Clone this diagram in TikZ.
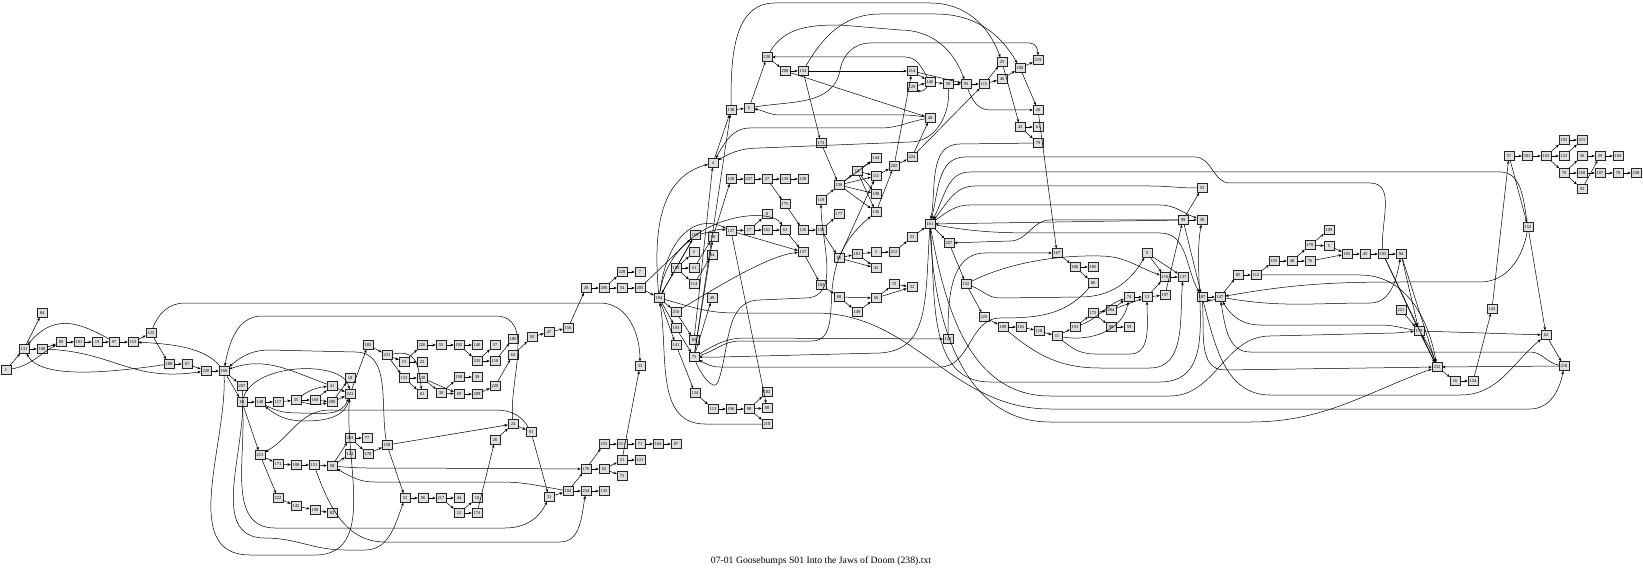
\documentclass[tikz,border=0pt]{standalone}
\usepackage{fontspec}
\setmainfont{Liberation Serif}
\usetikzlibrary{arrows.meta}

\tikzset{
  box/.style={draw=black!85, fill=gray!25, line width=0.35pt, minimum width=10pt, minimum height=9pt, inner sep=0.3pt, font=\fontsize{4.5}{5}\selectfont},
  conn/.style={->, line width=0.5pt},
}

\begin{document}
\begin{tikzpicture}[x=1pt, y=1pt, >={Stealth[length=3.4pt,width=2.7pt]}]
\useasboundingbox (0,0) rectangle (1643,-569);

% nodes, at pixel positions (x, depth)
\foreach \n/\x/\y in {1/6/370, 131/24/349, 84/42/313, 180/42/349, 89/61/342, 101/79/342, 19/97/342, 97/114/342, 153/133/342, 125/151/333, 188/169/364, 67/187/364, 220/206/371, 166/224/371, 207/242/386, 60/242/402, 148/260/402, 117/278/402, 35/296/400, 160/315/400, 41/332/386, 200/332/402, 18/350/378, 223/350/394,
  213/260/455, 171/278/464, 108/296/465, 151/314/465, 58/332/466, 203/350/438, 142/350/454, 77/367/438, 178/368/454, 159/387/445, 222/278/498, 145/296/506, 199/315/510, 82/332/513,
  52/405/498, 96/423/498, 217/441/498, 44/459/498, 12/459/513, 10/477/498, 174/477/513, 26/495/440, 24/513/424, 91/531/432, 31/549/497, 104/568/491, 234/586/491, 135/604/491, 176/586/469, 233/604/444, 65/604/469, 211/622/444, 21/622/460, 73/622/476, 71/640/444, 121/640/460, 164/658/444, 87/676/444, 33/640/366,
  183/368/345, 231/387/355, 15/404/362, 22/422/362, 226/422/345, 55/441/345, 192/459/345, 140/477/345, 37/495/345, 235/477/361, 110/495/361, 186/513/339, 64/513/355, 133/404/378, 130/422/378, 81/422/394, 30/441/393, 158/459/377, 39/477/377, 69/459/394, 209/477/394, 229/495/386,
  93/532/337, 47/549/332, 156/568/328, 28/586/288, 206/604/288, 228/622/272, 7/640/272, 54/622/288, 205/640/288, 194/659/298, 190/676/268, 2/694/252, 51/694/268, 114/694/284, 169/695/235, 80/713/237, 34/712/255, 49/712/298, 216/676/312, 193/676/328, 141/676/345, 83/694/340, 75/694/357, 134/695/393, 113/713/409, 196/731/409, 98/749/409, 182/767/392, 88/767/408, 210/767/424,
  4/713/163, 138/731/110, 6/749/108, 230/767/57, 208/785/71, 154/803/71, 173/821/143, 120/731/179, 237/749/179, 27/767/179, 139/785/179, 128/803/179, 175/785/204, 8/767/214, 127/731/231, 17/749/230, 162/767/230, 63/785/230, 126/803/230, 150/821/230, 119/821/200, 177/839/214, 236/839/185, 14/857/171, 144/876/158, 111/876/176, 198/876/194, 136/876/212, 202/894/166, 224/912/157, 214/912/71, 129/912/87, 146/930/82, 40/930/118, 50/948/84, 95/966/84, 115/984/84, 46/1002/79, 25/1002/62, 100/1020/68, 219/1038/60, 20/1038/110, 43/1020/127, 61/1038/127, 79/1038/143,
  157/803/252, 102/821/285, 66/839/258, 181/857/254, 3/876/252, 42/876/268, 212/894/252, 23/912/237, 161/930/224, 68/839/297, 149/857/312, 56/876/298, 72/894/284, 32/912/287,
  227/949/243, 132/966/284, 225/984/317, 189/1003/327, 165/1021/327, 118/1039/331, 11/1057/336, 191/1075/327, 172/1093/313, 204/1111/310, 90/1111/327, 74/1129/297, 59/1129/327, 13/1147/297, 197/1165/295, 9/1147/253, 116/1165/277, 137/1183/277, 167/1057/253, 106/1075/267, 185/1093/267, 86/1093/283, 123/948/339,
  53/1202/188, 99/1183/220, 38/1202/220, 187/1202/297, 147/1220/297, 85/1238/275, 112/1256/275, 155/1274/261, 48/1292/261, 76/1310/261, 170/1310/245, 109/1329/230, 5/1329/246, 105/1347/254, 45/1365/254, 103/1383/254, 94/1401/254, 221/1401/310, 179/1419/331, 232/1437/367, 16/1455/381, 124/1473/381, 143/1492/309,
  57/1509/156, 201/1527/156, 163/1546/156, 195/1564/140, 215/1582/140, 122/1564/156, 36/1582/156, 29/1600/156, 184/1618/156, 70/1564/173, 168/1582/173, 107/1600/173, 78/1618/173, 238/1636/173, 92/1582/189, 152/1528/227, 62/1546/335, 218/1564/366}
  \node[box] (n\n) at (\x,-\y) {\n};

% short edges
\foreach \a/\b in {1/131, 131/84, 131/180, 180/89, 89/101, 101/19, 19/97, 97/153, 153/125, 125/188, 188/67, 67/220, 220/166, 166/207, 166/60, 60/148, 148/117, 117/35, 35/160, 160/41, 160/200, 41/223, 200/223, 200/18, 223/183, 60/213, 213/171, 171/108, 108/151, 151/58, 213/222, 222/145, 145/199, 199/82, 58/203, 58/142, 203/77, 203/178, 178/159, 159/52, 52/96, 96/217, 217/44, 217/12, 12/10, 12/174, 174/26, 26/24, 24/91, 159/24, 91/31, 31/104, 104/176, 104/234, 234/135, 176/233, 176/65, 65/21, 65/73, 21/121, 233/211, 211/71, 71/164, 164/87, 21/33,
  183/231, 231/15, 231/133, 15/226, 15/22, 133/130, 133/81, 130/30, 130/69, 30/158, 30/69, 158/39, 69/209, 209/229, 229/64, 226/55, 55/192, 192/140, 192/235, 235/37, 235/110, 110/186, 64/93, 93/47, 47/156, 156/28, 28/206, 206/228, 228/7, 206/54, 54/205, 205/194, 205/169,
  194/190, 190/2, 190/51, 190/114, 190/169, 114/34, 51/80, 194/216, 194/193, 194/141, 216/83, 193/75, 141/134, 134/113, 113/196, 196/98, 98/182, 98/88, 98/210, 75/49, 83/4, 75/138, 4/138, 80/120, 169/194, 127/157, 127/88, 75/80,
  120/237, 237/27, 27/139, 139/128, 27/175, 175/126, 127/17, 17/8, 17/162, 162/63, 63/157, 126/150, 150/177, 150/66, 66/181, 181/3, 181/42, 66/42, 3/212, 212/23, 23/161, 157/102, 102/68, 68/56, 68/149, 149/56, 56/72, 56/32, 72/32, 119/236, 173/236, 154/173, 236/144, 236/14, 236/111, 236/198, 236/136, 14/144, 14/111, 14/198, 14/136, 111/202, 136/202, 202/214, 202/224, 224/40, 224/115, 66/111,
  138/6, 6/230, 230/208, 208/154, 154/214, 214/146, 129/146, 146/50, 50/95, 95/115, 115/46, 115/25, 46/100, 100/219, 100/20, 25/43, 43/61, 43/79, 208/40, 214/95, 20/167,
  161/227, 227/132, 132/225, 225/189, 189/165, 165/118, 118/11, 11/191, 191/172, 172/204, 172/90, 90/59, 204/74, 204/13, 74/13, 13/197, 13/116, 116/137, 9/116, 9/137, 197/99, 167/106, 106/185, 106/86, 99/53, 99/38, 99/187, 99/161,
  187/147, 147/85, 85/112, 112/155, 155/48, 48/170, 48/76, 170/109, 170/5, 5/105, 76/105, 105/45, 45/103, 103/94, 103/179, 103/232, 94/179, 94/232, 221/179, 179/232, 179/62, 62/218, 218/232, 232/16, 16/124, 124/143, 143/57, 57/201, 201/163, 163/195, 163/122, 163/70, 195/215, 122/215, 70/36, 70/168, 70/92, 36/29, 92/29, 168/107, 107/78, 78/238, 29/184, 57/152, 152/62}
  \draw[conn] (n\a) -- (n\b);

% curved and long edges, left part
\draw[conn] (n1) to[out=10,in=-150] (n89);
\draw[conn] (n97) to[out=150,in=50,looseness=1.2] (n131);
\draw[conn] (n188) .. controls (100,-374) and (40,-378) .. (n131);
\draw[conn] (n180) .. controls (115,-352) and (130,-382) .. (n220);
\draw[conn] (n166) .. controls (205,-348) and (175,-344) .. (n153);
\draw[conn] (n125) to[out=70,in=180] (185,-303) -- (600,-303) to[out=0,in=90] (n33);
\draw[conn] (n24) to[out=95,in=0] (495,-316) -- (262,-316) to[out=180,in=80] (n166);
\draw[conn] (n159) to[out=100,in=0] (355,-352) -- (270,-350) to[out=180,in=40] (n166);
\draw[conn] (n41) to[out=160,in=20] (n166);
\draw[conn] (n35) to[bend left=15] (n41);
\draw[conn] (n35) to[bend right=15] (n200);
\draw[conn] (n148) to[out=-30,in=180] (300,-413) to[out=0,in=-110] (n223);
\draw[conn] (n223) to[out=-100,in=0] (305,-421) to[out=180,in=-40] (n148);
\draw[conn] (n60) .. controls (255,-362) and (345,-360) .. (n223);
\draw[conn] (n166) to[out=-88,in=180] (250,-555) -- (315,-555) to[out=0,in=-95] (n223);
\draw[conn] (n207) to[out=-85,in=180] (265,-538) to[out=0,in=180] (345,-550) -- (365,-550) to[out=0,in=-110] (n52);
\draw[conn] (n60) to[out=-85,in=180] (275,-528) -- (505,-528) to[out=0,in=-115] (n31);
\draw[conn] (n151) to[out=-70,in=180] (385,-542) -- (560,-542) to[out=0,in=-100] (n234);
\draw[conn] (n91) to[out=120,in=0] (495,-410) -- (330,-410) to[out=180,in=30] (n213);
\draw[conn] (n58) to[out=-5,in=180] (400,-468) -- (n176);
\draw[conn] (n104) to[out=170,in=0] (500,-482) -- (375,-482) to[out=180,in=-30] (n58);
\draw[conn] (n231) .. controls (415,-350) and (418,-360) .. (n81);

% curved and long edges, middle part
\draw[conn] (n210) -- (705,-424) to[out=180,in=-80] (n194);
\draw[conn] (n194) to[out=95,in=195] (n4);
\draw[conn] (n194) .. controls (668,-230) and (700,-215) .. (n127);
\draw[conn] (n194) .. controls (672,-215) and (770,-205) .. (n63);
\draw[conn] (n169) to[out=10,in=170] (n127);
\draw[conn] (n216) .. controls (720,-285) and (770,-255) .. (n157);
\draw[conn] (n75) to[out=-70,in=-110] (718,-382) to[out=70,in=180] (760,-300) -- (805,-298) to[out=0,in=-90] (n119);
\draw[conn] (n75) to[out=15,in=180] (740,-341) -- (812,-341) to[out=0,in=-95] (832,-290) to[out=85,in=-140] (n136);
\draw[conn] (n161) .. controls (925,-300) and (930,-350) .. (880,-353) -- (720,-357) -- (n75);
\draw[conn] (n86) to[out=-130,in=0] (1000,-318) to[out=180,in=0] (940,-367) -- (720,-367) to[out=180,in=-30] (n75);
\draw[conn] (n75) to[out=30,in=180] (745,-338) -- (n123);
\draw[conn] (n123) to[out=90,in=180] (985,-253) -- (n167);
\draw[conn] (n194) to[out=-15,in=180] (735,-313) -- (815,-313) to[out=0,in=180] (1050,-409) -- (1530,-409) to[out=0,in=-100] (n218);

% top part
\draw[conn] (n138) to[out=90,in=180] (775,-3) -- (930,-3) to[out=0,in=110] (n25);
\draw[conn] (n154) to[out=60,in=180] (880,-14) -- (935,-14) to[out=0,in=120] (n100);
\draw[conn] (n230) to[out=60,in=180] (840,-25) -- (900,-30) to[out=0,in=110] (n95);
\draw[conn] (n6) to[out=10,in=-100] (840,-70) to[out=80,in=180] (870,-43) -- (1030,-43) to[out=0,in=90] (n219);
\draw[conn] (n146) to[out=120,in=0] (905,-57) -- (n230);
\draw[conn] (n146) to[out=-120,in=-30] (n129);
\draw[conn] (n40) to[out=170,in=0] (880,-115) -- (780,-115) to[out=180,in=-10] (n6);
\draw[conn] (n40) to[out=190,in=0] (880,-128) -- (750,-128) to[out=180,in=60] (n4);
\draw[conn] (n50) to[out=-85,in=0] (910,-142) -- (760,-148) to[out=180,in=30] (n4);
\draw[conn] (n95) to[out=-70,in=180] (990,-110) -- (n20);

% right part
\draw[conn] (n161) to[out=-85,in=180] (990,-382) -- (1160,-382) to[out=0,in=-100] (n38);
\draw[conn] (n161) to[out=-80,in=180] (1050,-396) -- (1170,-396) to[out=0,in=180] (1270,-336) -- (1395,-333) -- (n179);
\draw[conn] (n187) to[out=-75,in=180] (1270,-395) -- (1460,-395) to[out=0,in=-140] (n62);
\draw[conn] (n161) to[out=-88,in=180] (1050,-422) -- (1250,-422) to[out=0,in=-160] (n232);
\draw[conn] (n187) to[out=-85,in=180] (1225,-370) -- (n232);
\draw[conn] (n218) to[out=170,in=0] (1530,-352) -- (1250,-352) to[out=180,in=-80] (n147);
\draw[conn] (n179) to[out=170,in=0] (1380,-325) -- (1260,-325) to[out=180,in=-60] (n147);
\draw[conn] (n152) to[out=-100,in=0] (1480,-282) -- (1400,-282) to[out=180,in=10] (n147);
\draw[conn] (n147) to[out=-10,in=180] (1370,-303) to[out=0,in=-100] (n94);
\draw[conn] (n112) -- (1360,-275) to[out=0,in=100] (n232);
\draw[conn] (n232) to[bend right=8] (n179);
\draw[conn] (n147) to[bend left=25] (n187);
\draw[conn] (n152) to[out=100,in=0] (1500,-172) -- (970,-172) to[out=180,in=60] (n161);
\draw[conn] (n103) to[out=95,in=0] (1370,-183) -- (1230,-183) to[out=180,in=0] (1195,-157) -- (965,-157) to[out=180,in=75] (n161);
\draw[conn] (n53) to[out=180,in=0] (1150,-186) -- (975,-186) to[out=180,in=50] (n161);
\draw[conn] (n161) to[out=35,in=180] (970,-205) -- (1160,-205) to[out=0,in=160] (n38);
\draw[conn] (n161) to[out=-10,in=180] (1040,-233) -- (1160,-233) to[out=0,in=120] (n187);
\draw[conn] (n99) -- (1050,-220) to[out=180,in=0] (1010,-241) -- (n227);
\draw[conn] (n79) -- (960,-144) to[out=180,in=80] (n161);
\draw[conn] (n189) to[out=-40,in=180] (1100,-368) -- (1150,-368) to[out=0,in=-95] (n137);
\draw[conn] (n11) to[out=-40,in=180] (1095,-354) -- (1130,-354) to[out=0,in=-90] (n13);
\draw[conn] (n11) to[out=-10,in=-100] (n74);
\draw[conn] (n191) to[out=20,in=200] (n74);
\draw[conn] (n132) .. controls (1010,-262) and (1060,-255) .. (1100,-256) to[out=0,in=160] (n116);
\draw[conn] (n132) to[out=-20,in=180] (1000,-298) -- (1080,-297) to[out=0,in=-120] (n9);

\node (cap) at (821,-561) {\fontsize{9.7}{11}\selectfont 07-01 Goosebumps S01 Into the Jaws of Doom (238).txt};
\end{tikzpicture}
\end{document}
